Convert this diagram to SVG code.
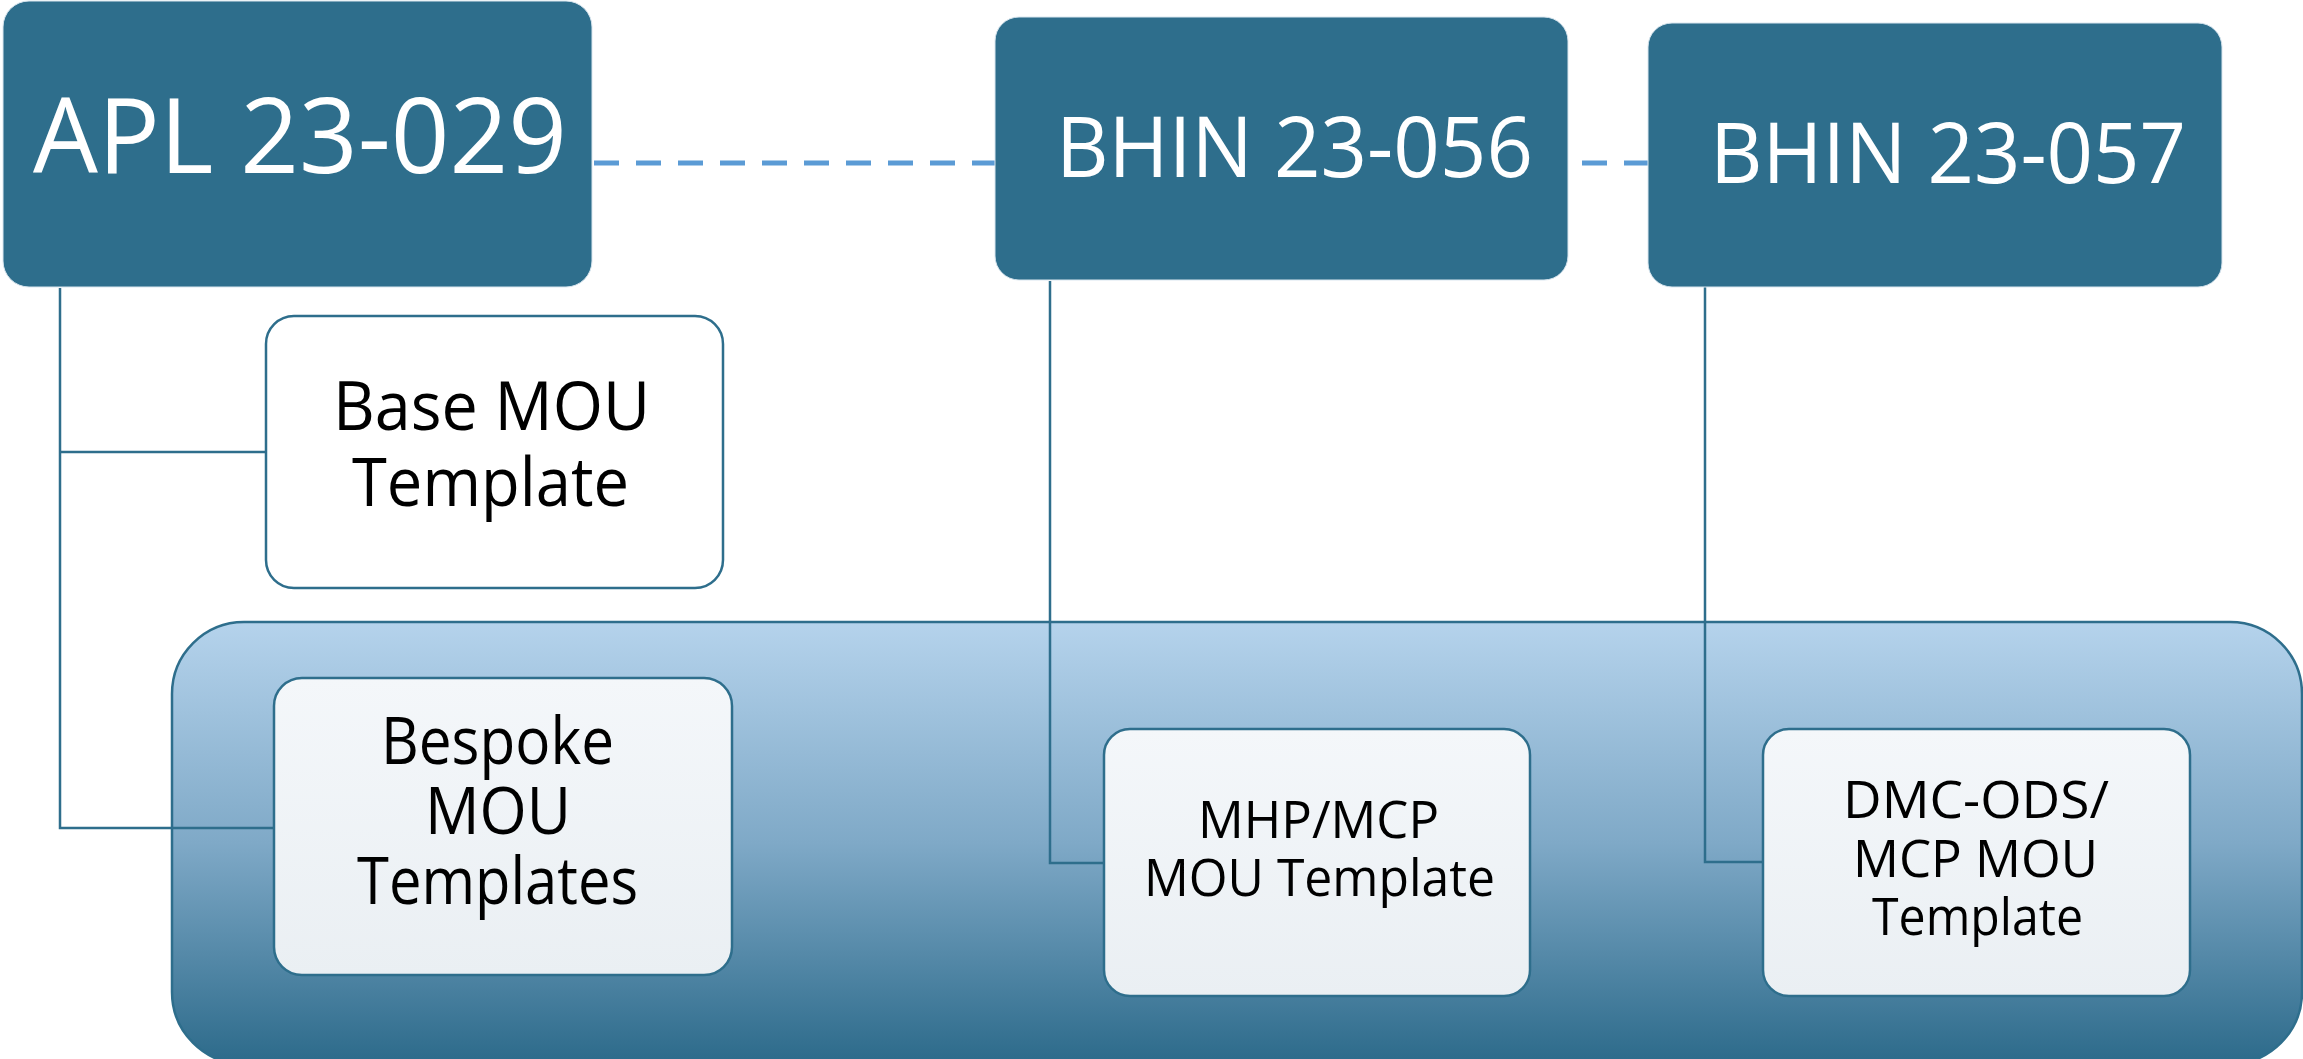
<svg xmlns="http://www.w3.org/2000/svg" width="2303" height="1059" viewBox="0 0 2303 1059">
  <style>
    .head { fill: #2E6E8C; stroke: #D9E6EF; stroke-width: 1; }
    .head-text { fill: #FFFFFF; font-family: "Open Sans", "Noto Sans", "Liberation Sans", sans-serif; }
    .card { stroke: #2E6E8C; stroke-width: 2.5; }
    .card-text { fill: #000000; font-family: "Open Sans", "Noto Sans", "Liberation Sans", sans-serif; }
    .link { fill: none; stroke: #2E6E8C; stroke-width: 2.5; }
    .dash { fill: none; stroke: #5B9BD5; stroke-width: 5; stroke-dasharray: 25 17; }
  </style>
  <defs>
    <linearGradient id="panelFill" x1="0" y1="0" x2="0" y2="1">
      <stop offset="0" stop-color="#B5D3EC"/>
      <stop offset="0.5" stop-color="#7FA9C7"/>
      <stop offset="1" stop-color="#2C6A8A"/>
    </linearGradient>
    <linearGradient id="cardFill" x1="0" y1="0" x2="0" y2="1">
      <stop offset="0" stop-color="#F4F7FA"/>
      <stop offset="1" stop-color="#EAEFF3"/>
    </linearGradient>
  </defs>

  <!-- shared container panel -->
  <g id="panel">
    <rect x="172" y="622" width="2130" height="442" rx="72" ry="72" fill="url(#panelFill)" stroke="#2E6E8C" stroke-width="2.5"/>
  </g>

  <!-- connectors -->
  <g id="connectors">
    <path class="dash" d="M594 163 H995"/>
    <path class="dash" d="M1582 163 H1648"/>
    <path class="link" d="M60 288 V828 H274"/>
    <path class="link" d="M60 452 H266"/>
    <path class="link" d="M1050 281 V863 H1104"/>
    <path class="link" d="M1705 287 V862 H1763"/>
  </g>

  <g id="apl-23-029">
    <rect class="head" x="3" y="1" width="589" height="286" rx="26" ry="26"/>
    <text class="head-text" x="33" y="173" font-size="105" textLength="534" lengthAdjust="spacingAndGlyphs">APL 23-029</text>
  </g>

  <g id="bhin-23-056">
    <rect class="head" x="995" y="17" width="573" height="263" rx="24" ry="24"/>
    <text class="head-text" x="1056" y="177" font-size="84" textLength="477" lengthAdjust="spacingAndGlyphs">BHIN 23-056</text>
  </g>

  <g id="bhin-23-057">
    <rect class="head" x="1648" y="23" width="574" height="264" rx="24" ry="24"/>
    <text class="head-text" x="1710" y="183" font-size="84" textLength="476" lengthAdjust="spacingAndGlyphs">BHIN 23-057</text>
  </g>

  <g id="base-mou-template">
    <rect class="card" x="266" y="316" width="457" height="272" rx="28" ry="28" fill="#FFFFFF"/>
    <text class="card-text" x="333" y="430" font-size="67" textLength="317" lengthAdjust="spacingAndGlyphs">Base MOU</text>
    <text class="card-text" x="352" y="506" font-size="67" textLength="277" lengthAdjust="spacingAndGlyphs">Template</text>
  </g>

  <g id="bespoke-mou-templates">
    <rect class="card" x="274" y="678" width="458" height="297" rx="28" ry="28" fill="url(#cardFill)"/>
    <text class="card-text" x="381" y="764" font-size="65" textLength="233" lengthAdjust="spacingAndGlyphs">Bespoke</text>
    <text class="card-text" x="425" y="834" font-size="65" textLength="146" lengthAdjust="spacingAndGlyphs">MOU</text>
    <text class="card-text" x="357" y="904" font-size="65" textLength="281" lengthAdjust="spacingAndGlyphs">Templates</text>
  </g>

  <g id="mhp-mcp-mou-template">
    <rect class="card" x="1104" y="729" width="426" height="267" rx="26" ry="26" fill="url(#cardFill)"/>
    <text class="card-text" x="1198" y="838" font-size="51" textLength="241" lengthAdjust="spacingAndGlyphs">MHP/MCP</text>
    <text class="card-text" x="1144" y="896" font-size="51" textLength="351" lengthAdjust="spacingAndGlyphs">MOU Template</text>
  </g>

  <g id="dmc-ods-mcp-mou-template">
    <rect class="card" x="1763" y="729" width="427" height="267" rx="26" ry="26" fill="url(#cardFill)"/>
    <text class="card-text" x="1843" y="818" font-size="51" textLength="266" lengthAdjust="spacingAndGlyphs">DMC-ODS/</text>
    <text class="card-text" x="1853" y="877" font-size="51" textLength="245" lengthAdjust="spacingAndGlyphs">MCP MOU</text>
    <text class="card-text" x="1872" y="935" font-size="51" textLength="211" lengthAdjust="spacingAndGlyphs">Template</text>
  </g>
</svg>
